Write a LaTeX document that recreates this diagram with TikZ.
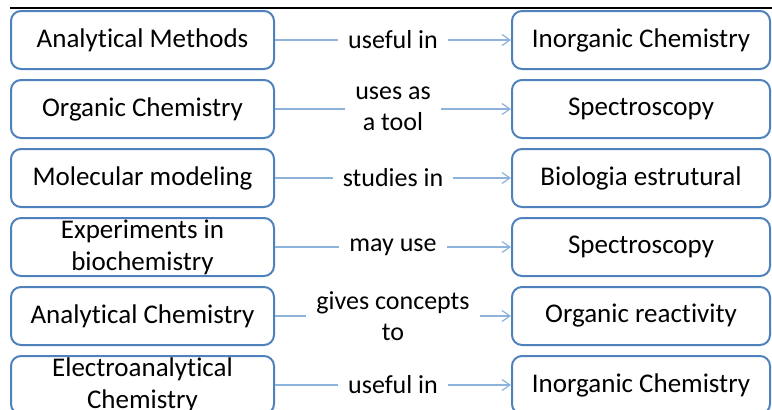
\documentclass[tikz,border=0pt]{standalone}
\usepackage{fontspec}
\setmainfont{Carlito}[Ligatures=NoCommon]
\usepackage{tikz}
\usetikzlibrary{positioning}
\usetikzlibrary{arrows.meta}
\definecolor{boxblue}{RGB}{79,129,189}
\definecolor{linkblue}{RGB}{141,178,220}

\begin{document}
\begin{tikzpicture}[
x=1pt, y=-1pt,
node distance=9pt and 236pt,
concept/.style={rectangle, rounded corners=10pt, draw=boxblue, line width=2pt, minimum height=58pt, inner sep=0pt, align=center, font=\fontsize{27}{32}\selectfont},
source/.style={concept, minimum width=263pt},
target/.style={concept, minimum width=258pt},
link/.style={draw=linkblue, line width=1.2pt, -{Straight Barb[length=8pt,width=11pt]}},
rel/.style={fill=white, inner xsep=10pt, inner ysep=0pt, align=center, font=\fontsize{26}{31}\selectfont}
]
\clip (0,0) rectangle (772,410);
\coordinate (rulestart) at (10,8);
\coordinate (ruleend) at (772,8);
\draw[line width=2pt] (rulestart) -- (ruleend);

\node [source] (methods) at (142.5,40) {Analytical Methods};
\node [source, below=of methods] (organic) {Organic Chemistry};
\node [source, below=of organic] (modeling) {Molecular modeling};
\node [source, below=of modeling] (experiments) {Experiments in\\biochemistry};
\node [source, below=of experiments] (analytical) {Analytical Chemistry};
\node [source, below=of analytical] (electro) {Electroanalytical\\Chemistry};

\node [target, right=of methods] (inorganic) {Inorganic Chemistry};
\node [target, right=of organic] (spectro) {Spectroscopy};
\node [target, right=of modeling] (biologia) {Biologia estrutural};
\node [target, right=of experiments] (spectrob) {Spectroscopy};
\node [target, right=of analytical] (reactivity) {Organic reactivity};
\node [target, right=of electro] (inorganicb) {Inorganic Chemistry};

\draw[link] (methods) -- node[rel] {useful in} (inorganic);
\draw[link] (organic) -- node[rel] {uses as\\a tool} (spectro);
\draw[link] (modeling) -- node[rel] {studies in} (biologia);
\draw[link] (experiments) -- node[rel] {may use} (spectrob);
\draw[link] (analytical) -- node[rel] {gives concepts\\to} (reactivity);
\draw[link] (electro) -- node[rel] {useful in} (inorganicb);
\end{tikzpicture}
\end{document}
